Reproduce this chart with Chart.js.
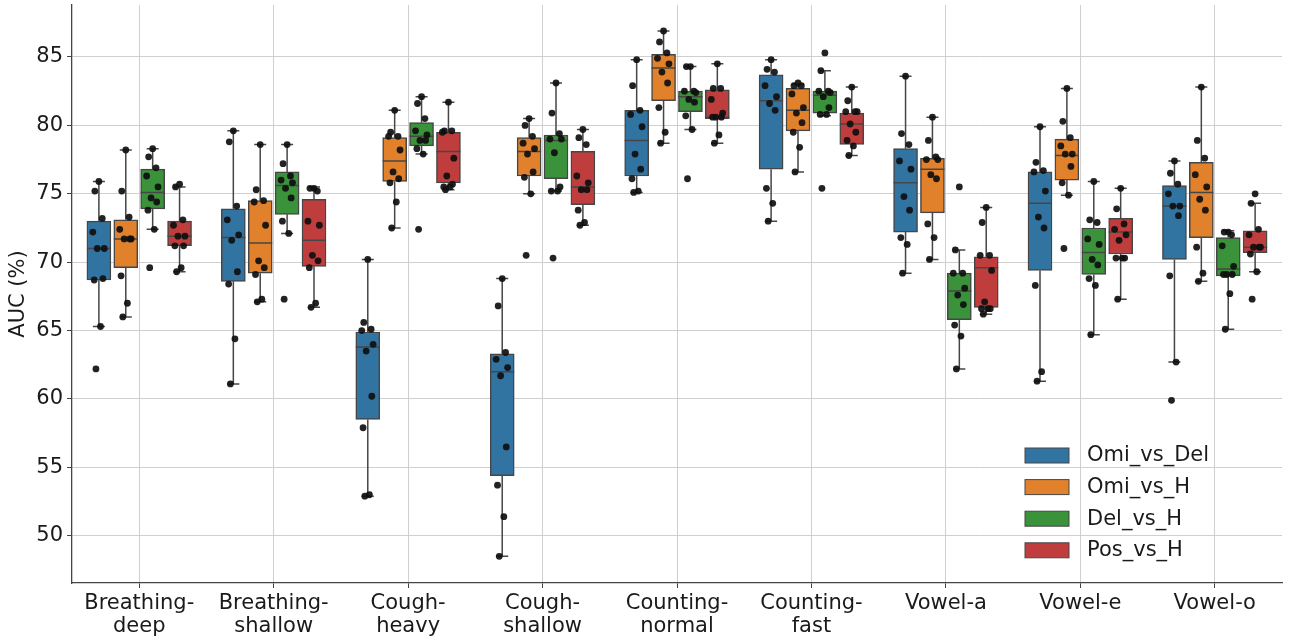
<!DOCTYPE html>
<html lang="en">
<head>
<meta charset="UTF-8">
<title>AUC per task</title>
<script src="https://cdn.jsdelivr.net/npm/chart.js"></script>
<style>
    body { margin: 0; background: white; }
    #wrap { width: 1290px; height: 641px; }
</style>
</head>
<body>
<div id="wrap"><canvas id="boxChart" width="1290" height="641"></canvas></div>
<script>
// categories and tick labels
const categories = [
    ['Breathing-', 'deep'], ['Breathing-', 'shallow'], ['Cough-', 'heavy'],
    ['Cough-', 'shallow'], ['Counting-', 'normal'], ['Counting-', 'fast'],
    ['Vowel-a'], ['Vowel-e'], ['Vowel-o']
];
const yTicks = [50, 55, 60, 65, 70, 75, 80, 85];
const groups = ['Omi_vs_Del', 'Omi_vs_H', 'Del_vs_H', 'Pos_vs_H'];

// box stats per category: [whisker low, q1, median, q3, whisker high]
const omiDelBox = [
    [65.3, 68.7, 71.0, 73.0, 75.9], [61.1, 68.6, 71.8, 73.9, 79.6], [52.9, 58.5, 63.8, 64.9, 70.2],
    [48.5, 54.4, 62.0, 63.3, 68.8], [75.1, 76.3, 78.9, 81.1, 84.8], [73.0, 76.8, 81.8, 83.7, 84.8],
    [69.2, 72.2, 75.8, 78.3, 83.6], [61.3, 69.4, 74.3, 76.6, 79.9], [62.7, 70.2, 74.1, 75.6, 77.4]
];
const omiHBox = [
    [66.0, 69.6, 71.7, 73.1, 78.2], [67.1, 69.2, 71.4, 74.5, 78.6], [72.5, 75.9, 77.4, 79.1, 81.1],
    [75.0, 76.3, 78.1, 79.1, 80.5], [78.7, 81.8, 84.2, 85.2, 86.9], [76.6, 79.6, 81.1, 82.7, 83.0],
    [70.2, 73.6, 76.8, 77.6, 80.6], [74.9, 76.0, 77.8, 79.0, 82.7], [68.6, 71.8, 75.1, 77.3, 82.8]
];
const delHBox = [
    [72.4, 73.9, 75.1, 76.8, 78.3], [72.1, 73.5, 75.6, 76.6, 78.6], [77.9, 78.5, 79.2, 80.2, 82.1],
    [75.2, 76.1, 78.9, 79.3, 83.1], [79.7, 81.0, 82.1, 82.5, 84.3], [80.7, 80.9, 82.2, 82.5, 84.0],
    [62.2, 65.8, 67.9, 69.2, 70.9], [64.7, 69.1, 70.7, 72.5, 75.9], [65.1, 69.0, 69.5, 71.8, 72.3]
];
const posHBox = [
    [69.3, 71.2, 71.9, 73.0, 75.5], [66.7, 69.7, 71.6, 74.6, 75.5], [75.3, 75.8, 78.1, 79.5, 81.7],
    [72.7, 74.2, 75.5, 78.1, 79.7], [78.7, 80.5, 80.6, 82.6, 84.5], [77.8, 78.6, 80.1, 80.9, 82.8],
    [66.2, 66.7, 69.6, 70.4, 74.0], [67.3, 70.6, 72.2, 73.2, 75.4], [69.3, 70.7, 71.1, 72.3, 74.3]
];

// single runs per category (strip points)
const omiDelPts = [
    [75.9, 75.2, 73.2, 72.2, 71.0, 71.0, 68.8, 68.7, 65.3, 62.2],
    [79.6, 78.8, 74.1, 73.1, 72.0, 71.6, 69.3, 68.4, 64.4, 61.1],
    [70.2, 65.6, 65.1, 65.0, 64.0, 63.5, 60.2, 57.9, 53.0, 52.9],
    [68.8, 66.8, 63.4, 62.9, 62.3, 61.7, 56.5, 53.7, 51.4, 48.5],
    [84.8, 82.9, 81.1, 80.8, 79.9, 77.9, 76.8, 76.1, 75.2, 75.1],
    [84.8, 84.1, 83.9, 82.9, 82.1, 81.6, 81.1, 75.4, 74.3, 73.0],
    [83.6, 79.4, 78.6, 77.4, 76.8, 74.8, 73.8, 71.8, 71.3, 69.2],
    [79.9, 77.3, 76.7, 76.6, 75.2, 73.3, 72.5, 68.3, 62.0, 61.3],
    [77.4, 76.5, 75.7, 75.0, 74.1, 74.1, 73.4, 69.0, 62.7, 59.9]
];
const omiHPts = [
    [78.2, 75.2, 73.3, 72.4, 71.7, 71.7, 71.7, 69.0, 67.0, 66.0],
    [78.6, 75.3, 74.5, 74.4, 72.7, 70.1, 69.6, 69.1, 67.3, 67.1],
    [81.1, 79.5, 79.2, 79.2, 78.2, 76.6, 76.1, 75.8, 74.4, 72.5],
    [80.5, 80.0, 79.2, 78.7, 78.3, 77.9, 76.6, 76.2, 75.0, 70.5],
    [86.9, 86.1, 85.3, 84.9, 84.5, 83.9, 83.1, 81.3, 79.5, 78.7],
    [83.1, 82.9, 82.9, 82.3, 81.3, 80.9, 80.2, 79.5, 78.4, 76.6],
    [80.6, 78.9, 77.7, 77.5, 77.5, 76.4, 76.1, 72.8, 71.8, 70.2],
    [82.7, 80.3, 79.1, 78.5, 77.9, 77.9, 77.0, 75.8, 74.9, 71.0],
    [82.8, 78.9, 77.6, 76.4, 75.5, 74.6, 73.8, 71.1, 69.2, 68.6]
];
const delHPts = [
    [78.3, 77.7, 76.9, 76.3, 75.5, 74.7, 74.4, 73.8, 72.4, 69.6],
    [78.6, 77.2, 76.3, 76.0, 75.8, 75.4, 74.7, 73.0, 72.1, 67.3],
    [82.1, 81.6, 80.5, 79.6, 79.3, 78.9, 78.9, 78.3, 77.9, 72.4],
    [83.1, 80.9, 79.4, 79.0, 79.0, 78.0, 75.5, 75.2, 75.2, 70.3],
    [84.3, 84.3, 82.5, 82.5, 82.4, 81.9, 81.7, 80.7, 79.7, 76.1],
    [85.3, 84.0, 82.5, 82.5, 82.4, 82.1, 81.3, 80.8, 80.8, 75.4],
    [75.5, 70.9, 69.2, 69.2, 68.1, 67.6, 66.9, 65.4, 64.6, 62.2],
    [75.9, 73.1, 72.9, 71.7, 71.3, 70.2, 69.8, 68.8, 68.3, 64.7],
    [72.2, 72.2, 72.0, 71.2, 69.7, 69.1, 69.1, 69.1, 67.7, 65.1]
];
const posHPts = [
    [75.7, 75.5, 73.1, 72.7, 71.9, 71.9, 71.2, 71.2, 69.6, 69.3],
    [75.4, 75.4, 75.2, 73.0, 72.7, 70.5, 70.1, 69.6, 67.0, 66.7],
    [81.7, 79.6, 79.6, 79.5, 77.6, 76.3, 75.7, 75.5, 75.5, 75.3],
    [79.7, 79.1, 78.6, 76.3, 75.8, 75.3, 75.3, 73.8, 72.9, 72.7],
    [84.5, 82.7, 82.7, 81.9, 80.9, 80.6, 80.6, 80.6, 79.3, 78.7],
    [82.8, 81.8, 81.0, 81.0, 81.0, 80.1, 79.5, 78.9, 78.5, 77.8],
    [74.0, 72.9, 70.5, 70.5, 69.4, 67.1, 66.6, 66.6, 66.6, 66.2],
    [75.4, 73.9, 72.8, 72.4, 72.0, 71.6, 70.3, 70.3, 70.3, 67.3],
    [75.0, 74.3, 72.4, 72.0, 71.1, 71.1, 71.1, 70.6, 69.3, 67.3]
];

const boxes = [omiDelBox, omiHBox, delHBox, posHBox];
const points = [omiDelPts, omiHPts, delHPts, posHPts];
const colors = ['#3274a1', '#e1812c', '#3a923a', '#c03d3e'];
const EDGE = '#464646';
const hueOffset = [-0.3, -0.1, 0.1, 0.3];
// fixed horizontal spread for the strip points (category units)
const spread = [0.0, -0.03, 0.025, -0.045, 0.04, -0.012, 0.03, -0.035, 0.012, -0.022];
const FONT = 'DejaVu Sans';

const datasets = [];
boxes.forEach((b, h) => {
    datasets.push({
        type: 'bar',
        label: groups[h],
        data: b.map((s, i) => ({ x: i + hueOffset[h], y: [s[1], s[3]] })),
        stats: b,
        backgroundColor: colors[h],
        borderColor: EDGE,
        borderWidth: 1.5,
        borderSkipped: false,
        barThickness: 24,
        grouped: false,
        order: 2
    });
});
points.forEach((p, h) => {
    const pts = [];
    p.forEach((vals, i) => vals.forEach((v, k) => pts.push({ x: i + hueOffset[h] + spread[k], y: v })));
    datasets.push({
        type: 'scatter',
        label: groups[h] + ' runs',
        data: pts,
        backgroundColor: 'rgba(15,15,15,0.92)',
        borderWidth: 0,
        pointRadius: 3.4,
        order: 1
    });
});

// whiskers, caps and median lines drawn right after each box dataset
const boxLines = {
    id: 'boxLines',
    afterDatasetDraw(chart, args) {
        const ds = chart.data.datasets[args.index];
        if (!ds.stats) return;
        const y = chart.scales.y;
        const ctx = chart.ctx;
        const meta = args.meta;
        ctx.save();
        ctx.strokeStyle = EDGE;
        ctx.lineWidth = 1.5;
        meta.data.forEach((el, i) => {
            const s = ds.stats[i];
            const cx = el.x, half = el.width / 2, cap = half / 2;
            const lo = y.getPixelForValue(s[0]), q1 = y.getPixelForValue(s[1]);
            const md = y.getPixelForValue(s[2]), q3 = y.getPixelForValue(s[3]);
            const hi = y.getPixelForValue(s[4]);
            ctx.beginPath();
            ctx.moveTo(cx, q1); ctx.lineTo(cx, lo);
            ctx.moveTo(cx, q3); ctx.lineTo(cx, hi);
            ctx.moveTo(cx - cap, lo); ctx.lineTo(cx + cap, lo);
            ctx.moveTo(cx - cap, hi); ctx.lineTo(cx + cap, hi);
            ctx.moveTo(cx - half, md); ctx.lineTo(cx + half, md);
            ctx.stroke();
        });
        ctx.restore();
    }
};

// legend inside the plot, lower right, no frame
const boxLegend = {
    id: 'boxLegend',
    afterDraw(chart) {
        const ctx = chart.ctx;
        const a = chart.chartArea;
        const x0 = a.right - 257, y0 = a.bottom - 135;
        ctx.save();
        ctx.font = '21px "' + FONT + '"';
        ctx.textBaseline = 'middle';
        groups.forEach((g, h) => {
            const yy = y0 + h * 31.6;
            ctx.fillStyle = colors[h];
            ctx.fillRect(x0, yy, 44, 15);
            ctx.strokeStyle = EDGE;
            ctx.lineWidth = 1;
            ctx.strokeRect(x0, yy, 44, 15);
            ctx.fillStyle = '#1a1a1a';
            ctx.fillText(g, x0 + 62, yy + 8);
        });
        ctx.restore();
    }
};

new Chart(document.getElementById('boxChart'), {
    type: 'scatter',
    data: { datasets: datasets },
    plugins: [boxLines, boxLegend],
    options: {
        responsive: false,
        animation: false,
        devicePixelRatio: 1,
        layout: { padding: { top: 5, right: 8, left: 0, bottom: 0 } },
        plugins: { legend: { display: false }, tooltip: { enabled: false } },
        scales: {
            x: {
                type: 'linear',
                min: -0.5,
                max: 8.5,
                offset: false,
                afterBuildTicks: s => { s.ticks = categories.map((c, i) => ({ value: i })); },
                afterFit: s => { s.height = 58; s.paddingLeft = 0; s.paddingRight = 0; },
                ticks: {
                    callback: v => categories[v],
                    color: '#1a1a1a',
                    font: { family: FONT, size: 21, lineHeight: 1.1 },
                    padding: 4,
                    maxRotation: 0,
                    autoSkip: false
                },
                grid: { offset: false, color: '#cfcfcf', lineWidth: 1, tickLength: 5, tickColor: '#444' },
                border: { color: '#444', width: 1.3 }
            },
            y: {
                min: 46.55,
                max: 88.8,
                afterBuildTicks: s => { s.ticks = yTicks.map(v => ({ value: v })); },
                afterFit: s => { s.width = 72; s.paddingTop = 0; s.paddingBottom = 0; },
                ticks: {
                    color: '#1a1a1a',
                    font: { family: FONT, size: 21 },
                    padding: 4
                },
                title: {
                    display: true,
                    text: 'AUC (%)',
                    color: '#1a1a1a',
                    font: { family: FONT, size: 21 },
                    padding: { top: 6, bottom: 0 }
                },
                grid: { color: '#cfcfcf', lineWidth: 1, tickLength: 5, tickColor: '#444' },
                border: { color: '#444', width: 1.3 }
            }
        }
    }
});
</script>
</body>
</html>
